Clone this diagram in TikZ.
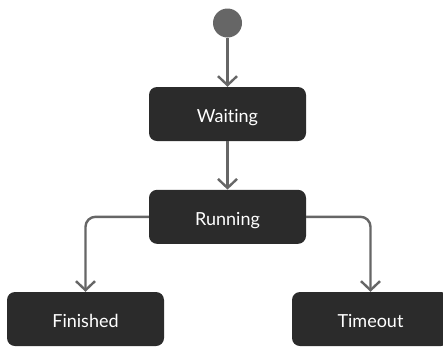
\documentclass[tikz,border=0pt]{standalone}
\usepackage{fontspec}
\setmainfont{Lato}[Ligatures={NoCommon}]
\usepackage{tikz}
\usetikzlibrary{arrows.meta}

\begin{document}
\begin{tikzpicture}[x=1pt,y=-1pt,
        state/.style={rectangle,rounded corners=8pt,fill={rgb,255:red,43;green,43;blue,43},
            text=white,minimum width=157pt,minimum height=54pt,inner sep=0pt,
            text height=17pt,text depth=0pt,font=\fontsize{18}{21}\selectfont},
        init/.style={circle,fill={rgb,255:red,102;green,102;blue,102},minimum size=29pt,inner sep=0pt},
        flow/.style={draw={rgb,255:red,102;green,102;blue,102},line width=2.4pt,rounded corners=10pt,
            -{Straight Barb[length=9pt,width=19pt,line width=2.4pt]}}]

        \useasboundingbox (0,0) rectangle (443,346);

        \node [init] at (227.5, 23) (start) {};
        \node [state] at (227.5, 114) (waiting) {Waiting};
        \node [state] at (227.5, 216.8) (running) {Running};
        \node [state] at (85.5, 319) (finished) {Finished};
        \node [state] at (370.5, 319) (timeout) {Timeout};

        \draw [flow] (start) -- (waiting);
        \draw [flow] (waiting) -- (running);
        \draw [flow] (running.west) -| (finished.north);
        \draw [flow] (running.east) -| (timeout.north);

    \end{tikzpicture}
\end{document}
